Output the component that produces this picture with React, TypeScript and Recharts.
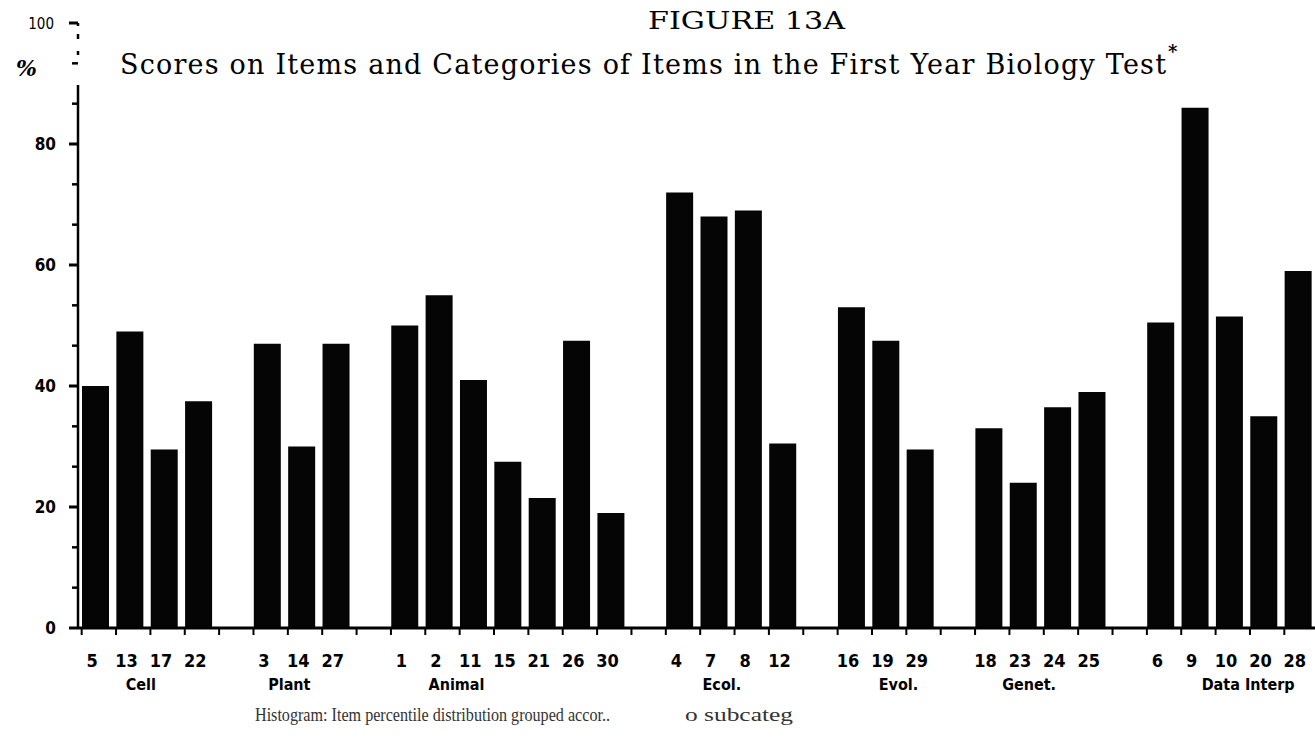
import { BarChart, Bar, XAxis, YAxis } from 'recharts';

const GROUPS = ['Cell', 'Plant', 'Animal', 'Ecol.', 'Evol.', 'Genet.', 'Data Interp'];

const GROUP_ITEMS = [
  ['5', '13', '17', '22'],
  ['3', '14', '27'],
  ['1', '2', '11', '15', '21', '26', '30'],
  ['4', '7', '8', '12'],
  ['16', '19', '29'],
  ['18', '23', '24', '25'],
  ['6', '9', '10', '20', '28'],
];

const GROUP_SCORES = [
  [40, 49, 29.5, 37.5],
  [47, 30, 47],
  [50, 55, 41, 27.5, 21.5, 47.5, 19],
  [72, 68, 69, 30.5],
  [53, 47.5, 29.5],
  [33, 24, 36.5, 39],
  [50.5, 86, 51.5, 35, 59],
];

const Y_LABELS = [0, 20, 40, 60, 80, 100];

// group label nudges, the scan isn't centred under each group
const GROUP_SHIFT: Record<string, number> = {
  Cell: -6,
  Plant: -12,
  Animal: -51,
  'Ecol.': -9,
  'Evol.': 13,
  'Genet.': -11,
  'Data Interp': 19,
};

type Row = { key: string; item: string; score: number | null; group: number; pos: number };

const rows: Row[] = [];
GROUPS.forEach((_, g) => {
  if (g > 0) rows.push({ key: `gap${g}`, item: '', score: null, group: -1, pos: -1 });
  GROUP_ITEMS[g].forEach((item, i) => {
    rows.push({ key: item, item, score: GROUP_SCORES[g][i], group: g, pos: i });
  });
});
const byKey = new Map(rows.map((r) => [r.key, r]));

// three small ticks per labelled step, as on the hand drawn axis
const yTicks: number[] = [];
for (let i = 0; i < Y_LABELS.length - 1; i++) {
  const a = Y_LABELS[i];
  const b = Y_LABELS[i + 1];
  yTicks.push(a, a + (b - a) / 3, a + (2 * (b - a)) / 3);
}
yTicks.push(Y_LABELS[Y_LABELS.length - 1]);

const W = 1315;
const H = 740;
const LEFT = 78;
const PLOT_W = W - LEFT;
const SLOT = PLOT_W / rows.length;
const BAR = 27;

const numFont = "'Liberation Sans Narrow', 'DejaVu Sans Condensed', 'Liberation Sans', sans-serif";
const serif = "'DejaVu Serif', 'Liberation Serif', serif";

function ItemTick(props: any) {
  const { x, y, payload } = props;
  const row = byKey.get(String(payload.value));
  const left = x - BAR / 2;
  return (
    <g>
      <line x1={left} y1={y} x2={left} y2={y + 7} stroke="#000" strokeWidth={2} />
      {row && row.item && (
        <text x={x - 3} y={y + 39} textAnchor="middle" fontFamily={numFont} fontWeight={700} fontSize={18} fill="#000">
          {row.item}
        </text>
      )}
      {row && row.pos === 0 && (
        <text
          x={x + ((GROUP_ITEMS[row.group].length - 1) / 2) * SLOT + (GROUP_SHIFT[GROUPS[row.group]] || 0)}
          y={y + 62}
          textAnchor="middle"
          fontFamily={numFont}
          fontWeight={700}
          fontSize={16}
          fill="#000"
        >
          {GROUPS[row.group]}
        </text>
      )}
    </g>
  );
}

function PctTick(props: any) {
  const { x, y, payload } = props;
  const v = Math.round(payload.value * 100) / 100;
  const labelled = Y_LABELS.includes(v);
  return (
    <g>
      <line x1={x - (labelled ? 9 : 6)} y1={y} x2={x} y2={y} stroke="#000" strokeWidth={labelled ? 3 : 2.5} />
      {labelled && (
        <text
          x={v === 100 ? x - 24 : x - 22}
          y={y + 6}
          textAnchor="end"
          fontFamily={numFont}
          fontWeight={v === 100 ? 400 : 700}
          fontSize={v === 100 ? 15 : 17}
          fill="#000"
        >
          {v}
        </text>
      )}
    </g>
  );
}

export default function App() {
  return (
    <div style={{ position: 'absolute', left: 0, top: 0, width: W, height: H, background: '#fff' }}>
      <BarChart
        width={W}
        height={H}
        data={rows}
        margin={{ top: 23, right: 0, bottom: 22, left: 0 }}
        barCategoryGap={0}
      >
        <XAxis
          dataKey="key"
          interval={0}
          height={90}
          tickLine={false}
          tickSize={0}
          tickMargin={0}
          axisLine={{ stroke: '#000', strokeWidth: 3 }}
          tick={<ItemTick />}
        />
        <YAxis
          type="number"
          domain={[0, 100]}
          ticks={yTicks}
          interval={0}
          width={LEFT}
          tickLine={false}
          tickSize={0}
          tickMargin={0}
          axisLine={{ stroke: '#000', strokeWidth: 2.5, strokeDasharray: '3 8 5 12 4 30 2000 0' }}
          tick={<PctTick />}
        />
        <Bar dataKey="score" fill="#050505" barSize={BAR} isAnimationActive={false} />
      </BarChart>
      <svg width={W} height={H} style={{ position: 'absolute', left: 0, top: 0, pointerEvents: 'none' }}>
        <text x={648} y={29} textLength={197} lengthAdjust="spacingAndGlyphs" fontFamily={serif} fontSize={25} fill="#000">
          FIGURE 13A
        </text>
        <text x={120} y={74} textLength={1046} lengthAdjust="spacing" fontFamily={serif} fontSize={27} fill="#000">
          Scores on Items and Categories of Items in the First Year Biology Test
        </text>
        <text x={1168} y={58} fontFamily={serif} fontWeight={700} fontSize={18} fill="#000">
          *
        </text>
        <text x={16} y={76} fontFamily={serif} fontWeight={700} fontStyle="italic" fontSize={22} fill="#000">
          %
        </text>
        <text x={255} y={721} textLength={355} lengthAdjust="spacingAndGlyphs" fontFamily="'Liberation Serif', serif" fontSize={19} fill="#333">
          Histogram: Item percentile distribution grouped accor..
        </text>
        <text x={685} y={721} textLength={108} lengthAdjust="spacingAndGlyphs" fontFamily="'Liberation Serif', serif" fontSize={19} fill="#333">
          o subcateg
        </text>
      </svg>
    </div>
  );
}
